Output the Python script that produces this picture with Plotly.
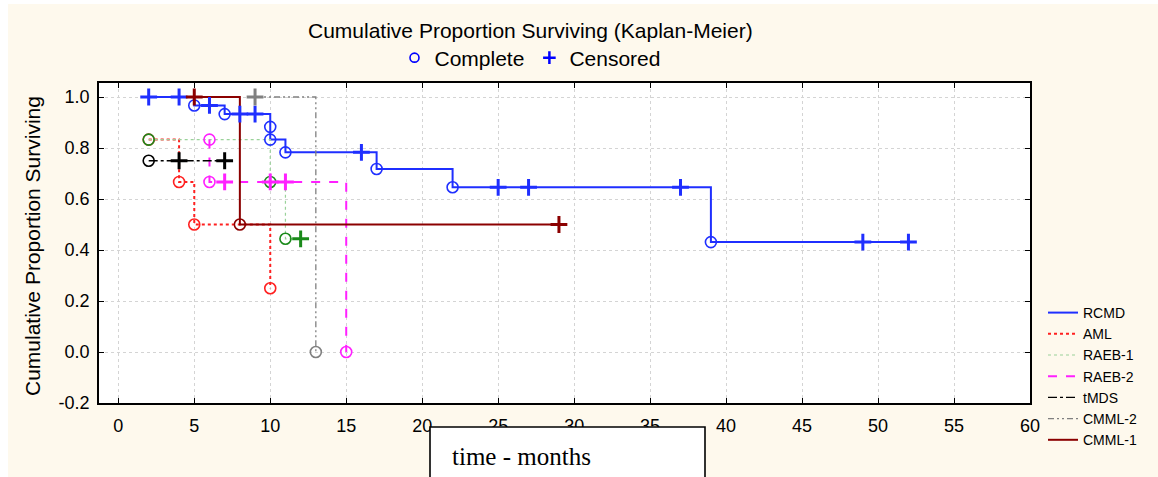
import plotly.graph_objects as go

# ---------------- data ----------------
series_names = ["RCMD", "AML", "RAEB-1", "RAEB-2", "tMDS", "CMML-2", "CMML-1"]

rcmd_complete_t = [5, 7, 10, 10, 11, 17, 22, 39]
rcmd_complete_s = [0.967, 0.933, 0.883, 0.833, 0.783, 0.718, 0.646, 0.431]
rcmd_censored_t = [2, 4, 6, 8, 9, 16, 25, 27, 37, 49, 52]
rcmd_censored_s = [1.0, 1.0, 0.967, 0.933, 0.933, 0.783, 0.646, 0.646, 0.646, 0.431, 0.431]

aml_complete_t = [2, 4, 5, 10]
aml_complete_s = [0.833, 0.667, 0.5, 0.25]
aml_censored_t = []
aml_censored_s = []

raeb1_complete_t = [2, 10, 11]
raeb1_complete_s = [0.833, 0.667, 0.444]
raeb1_censored_t = [12]
raeb1_censored_s = [0.444]

raeb2_complete_t = [6, 6, 15]
raeb2_complete_s = [0.833, 0.667, 0.0]
raeb2_censored_t = [7, 10, 11]
raeb2_censored_s = [0.667, 0.667, 0.667]

tmds_complete_t = [2]
tmds_complete_s = [0.75]
tmds_censored_t = [4, 7]
tmds_censored_s = [0.75, 0.75]

cmml2_complete_t = [13]
cmml2_complete_s = [0.0]
cmml2_censored_t = [9]
cmml2_censored_s = [1.0]

cmml1_complete_t = [8]
cmml1_complete_s = [0.5]
cmml1_censored_t = [5, 29]
cmml1_censored_s = [1.0, 0.5]

x_tick_vals = [0, 5, 10, 15, 20, 25, 30, 35, 40, 45, 50, 55, 60]
y_tick_vals = [-0.2, 0.0, 0.2, 0.4, 0.6, 0.8, 1.0]
y_tick_text = ["-0.2", "0.0", "0.2", "0.4", "0.6", "0.8", "1.0"]

chart_title = "Cumulative Proportion Surviving (Kaplan-Meier)"
y_title = "Cumulative Proportion Surviving"
x_title = "time - months"
marker_legend_names = ["Complete", "Censored"]

# ---------------- styles ----------------
data = {
    "RCMD": (rcmd_complete_t, rcmd_complete_s, rcmd_censored_t, rcmd_censored_s),
    "AML": (aml_complete_t, aml_complete_s, aml_censored_t, aml_censored_s),
    "RAEB-1": (raeb1_complete_t, raeb1_complete_s, raeb1_censored_t, raeb1_censored_s),
    "RAEB-2": (raeb2_complete_t, raeb2_complete_s, raeb2_censored_t, raeb2_censored_s),
    "tMDS": (tmds_complete_t, tmds_complete_s, tmds_censored_t, tmds_censored_s),
    "CMML-2": (cmml2_complete_t, cmml2_complete_s, cmml2_censored_t, cmml2_censored_s),
    "CMML-1": (cmml1_complete_t, cmml1_complete_s, cmml1_censored_t, cmml1_censored_s),
}
line_style = {
    "RCMD": dict(color="#1f2fff", dash="solid", width=2),
    "AML": dict(color="#ff2020", dash="dot", width=2),
    "RAEB-1": dict(color="#9ad29a", dash="dot", width=1.2),
    "RAEB-2": dict(color="#ff20ff", dash="dash", width=2),
    "tMDS": dict(color="#000000", dash="dashdot", width=1.3),
    "CMML-2": dict(color="#808080", dash="6px,3px,2px,3px,2px,3px", width=1.3),
    "CMML-1": dict(color="#8b0000", dash="solid", width=2),
}
marker_color = {
    "RCMD": "#1f2fff", "AML": "#ff2020", "RAEB-1": "#1a8a1a", "RAEB-2": "#ff20ff",
    "tMDS": "#000000", "CMML-2": "#808080", "CMML-1": "#8b0000",
}

FONT = "Arial, Liberation Sans, sans-serif"
SERIF = "Times New Roman, Liberation Serif, serif"

fig = go.Figure()

for name in series_names:
    ct, cs, et, es = data[name]
    pts = sorted(list(zip(ct, cs)) + list(zip(et, es)), key=lambda p: p[0])
    fig.add_trace(go.Scatter(
        x=[p[0] for p in pts], y=[p[1] for p in pts], mode="lines",
        line=dict(shape="hv", **line_style[name]), name=name,
        legend="legend", hoverinfo="skip"))

for name in series_names:
    ct, cs, et, es = data[name]
    col = marker_color[name]
    if ct:
        fig.add_trace(go.Scatter(
            x=ct, y=cs, mode="markers", showlegend=False,
            marker=dict(symbol="circle-open", size=11, color=col, line=dict(width=1.6, color=col))))
    if et:
        fig.add_trace(go.Scatter(
            x=et, y=es, mode="markers", showlegend=False,
            marker=dict(symbol="cross-thin-open", size=12, color=col, line=dict(width=3, color=col))))

# Top legend: Complete / Censored
fig.add_trace(go.Scatter(x=[None], y=[None], mode="markers", name=marker_legend_names[0],
                         legend="legend2",
                         marker=dict(symbol="circle-open", size=9, color="#0000ff",
                                     line=dict(width=1.6, color="#0000ff"))))
fig.add_trace(go.Scatter(x=[None], y=[None], mode="markers", name=marker_legend_names[1],
                         legend="legend2",
                         marker=dict(symbol="cross-thin-open", size=9, color="#0000ff",
                                     line=dict(width=2.5, color="#0000ff"))))

# ---------------- layout ----------------
L, R, T, B = 99, 128, 83, 74
W, H = 1158, 477
pw, ph = W - L - R, H - T - B


def px_x(px):
    return (px - L) / pw


def px_y(py):
    return (H - B - py) / ph


fig.update_layout(
    width=W, height=H, autosize=False,
    margin=dict(l=L, r=R, t=T, b=B, pad=0),
    paper_bgcolor="#fef9ed", plot_bgcolor="#ffffff",
    font=dict(family=FONT, color="#000000"),
    xaxis=dict(range=[-1.27, 60], tickvals=x_tick_vals, ticks="inside", ticklen=5,
               tickcolor="#000", showline=True, linecolor="#000", linewidth=1.5,
               mirror="ticks", showgrid=True, gridcolor="#d4d4d4", griddash="dot",
               gridwidth=1, zeroline=False, tickfont=dict(size=18, family=FONT),
               ticklabelstandoff=6),
    yaxis=dict(range=[-0.2, 1.055], tickvals=y_tick_vals, ticktext=y_tick_text,
               ticks="inside", ticklen=5, tickcolor="#000", showline=True,
               linecolor="#000", linewidth=1.5, mirror="ticks", showgrid=True,
               gridcolor="#d4d4d4", griddash="dot", gridwidth=1, zeroline=False,
               tickfont=dict(size=18, family=FONT), ticklabelstandoff=4),
    legend=dict(x=px_x(1043), y=px_y(297), xanchor="left", yanchor="top",
                bgcolor="rgba(0,0,0,0)", font=dict(size=14, family=FONT),
                tracegroupgap=0, itemwidth=30),
    legend2=dict(orientation="h", x=px_x(530), y=px_y(58), xanchor="center",
                 yanchor="middle", bgcolor="rgba(0,0,0,0)",
                 font=dict(size=21, family=FONT)),
    showlegend=True,
)

fig.add_annotation(text=chart_title, xref="paper", yref="paper", x=px_x(530), y=px_y(31),
                   xanchor="center", yanchor="middle", showarrow=False,
                   font=dict(size=21, family=FONT))
fig.add_annotation(text=y_title, xref="paper", yref="paper", x=px_x(32), y=px_y(246),
                   xanchor="center", yanchor="middle", showarrow=False, textangle=-90,
                   font=dict(size=21, family=FONT))

# white page strips around the chart frame
fig.add_shape(type="rect", xref="paper", yref="paper", x0=px_x(-2), x1=px_x(W + 2),
              y0=px_y(4), y1=px_y(-2), fillcolor="#ffffff", line=dict(width=0), layer="below")
fig.add_shape(type="rect", xref="paper", yref="paper", x0=px_x(-2), x1=px_x(8),
              y0=px_y(H + 2), y1=px_y(-2), fillcolor="#ffffff", line=dict(width=0), layer="below")

# x-axis title box
fig.add_shape(type="rect", xref="paper", yref="paper", x0=px_x(430), x1=px_x(705),
              y0=px_y(H + 10), y1=px_y(427), fillcolor="#ffffff",
              line=dict(color="#000000", width=1.6), layer="above")
fig.add_annotation(text=x_title, xref="paper", yref="paper", x=px_x(450), y=px_y(456),
                   xanchor="left", yanchor="middle", showarrow=False,
                   font=dict(size=25, family=SERIF))

fig.write_html("out.html", config={"displayModeBar": False},
               post_script="document.body.style.margin='0';document.body.style.overflow='hidden';")
